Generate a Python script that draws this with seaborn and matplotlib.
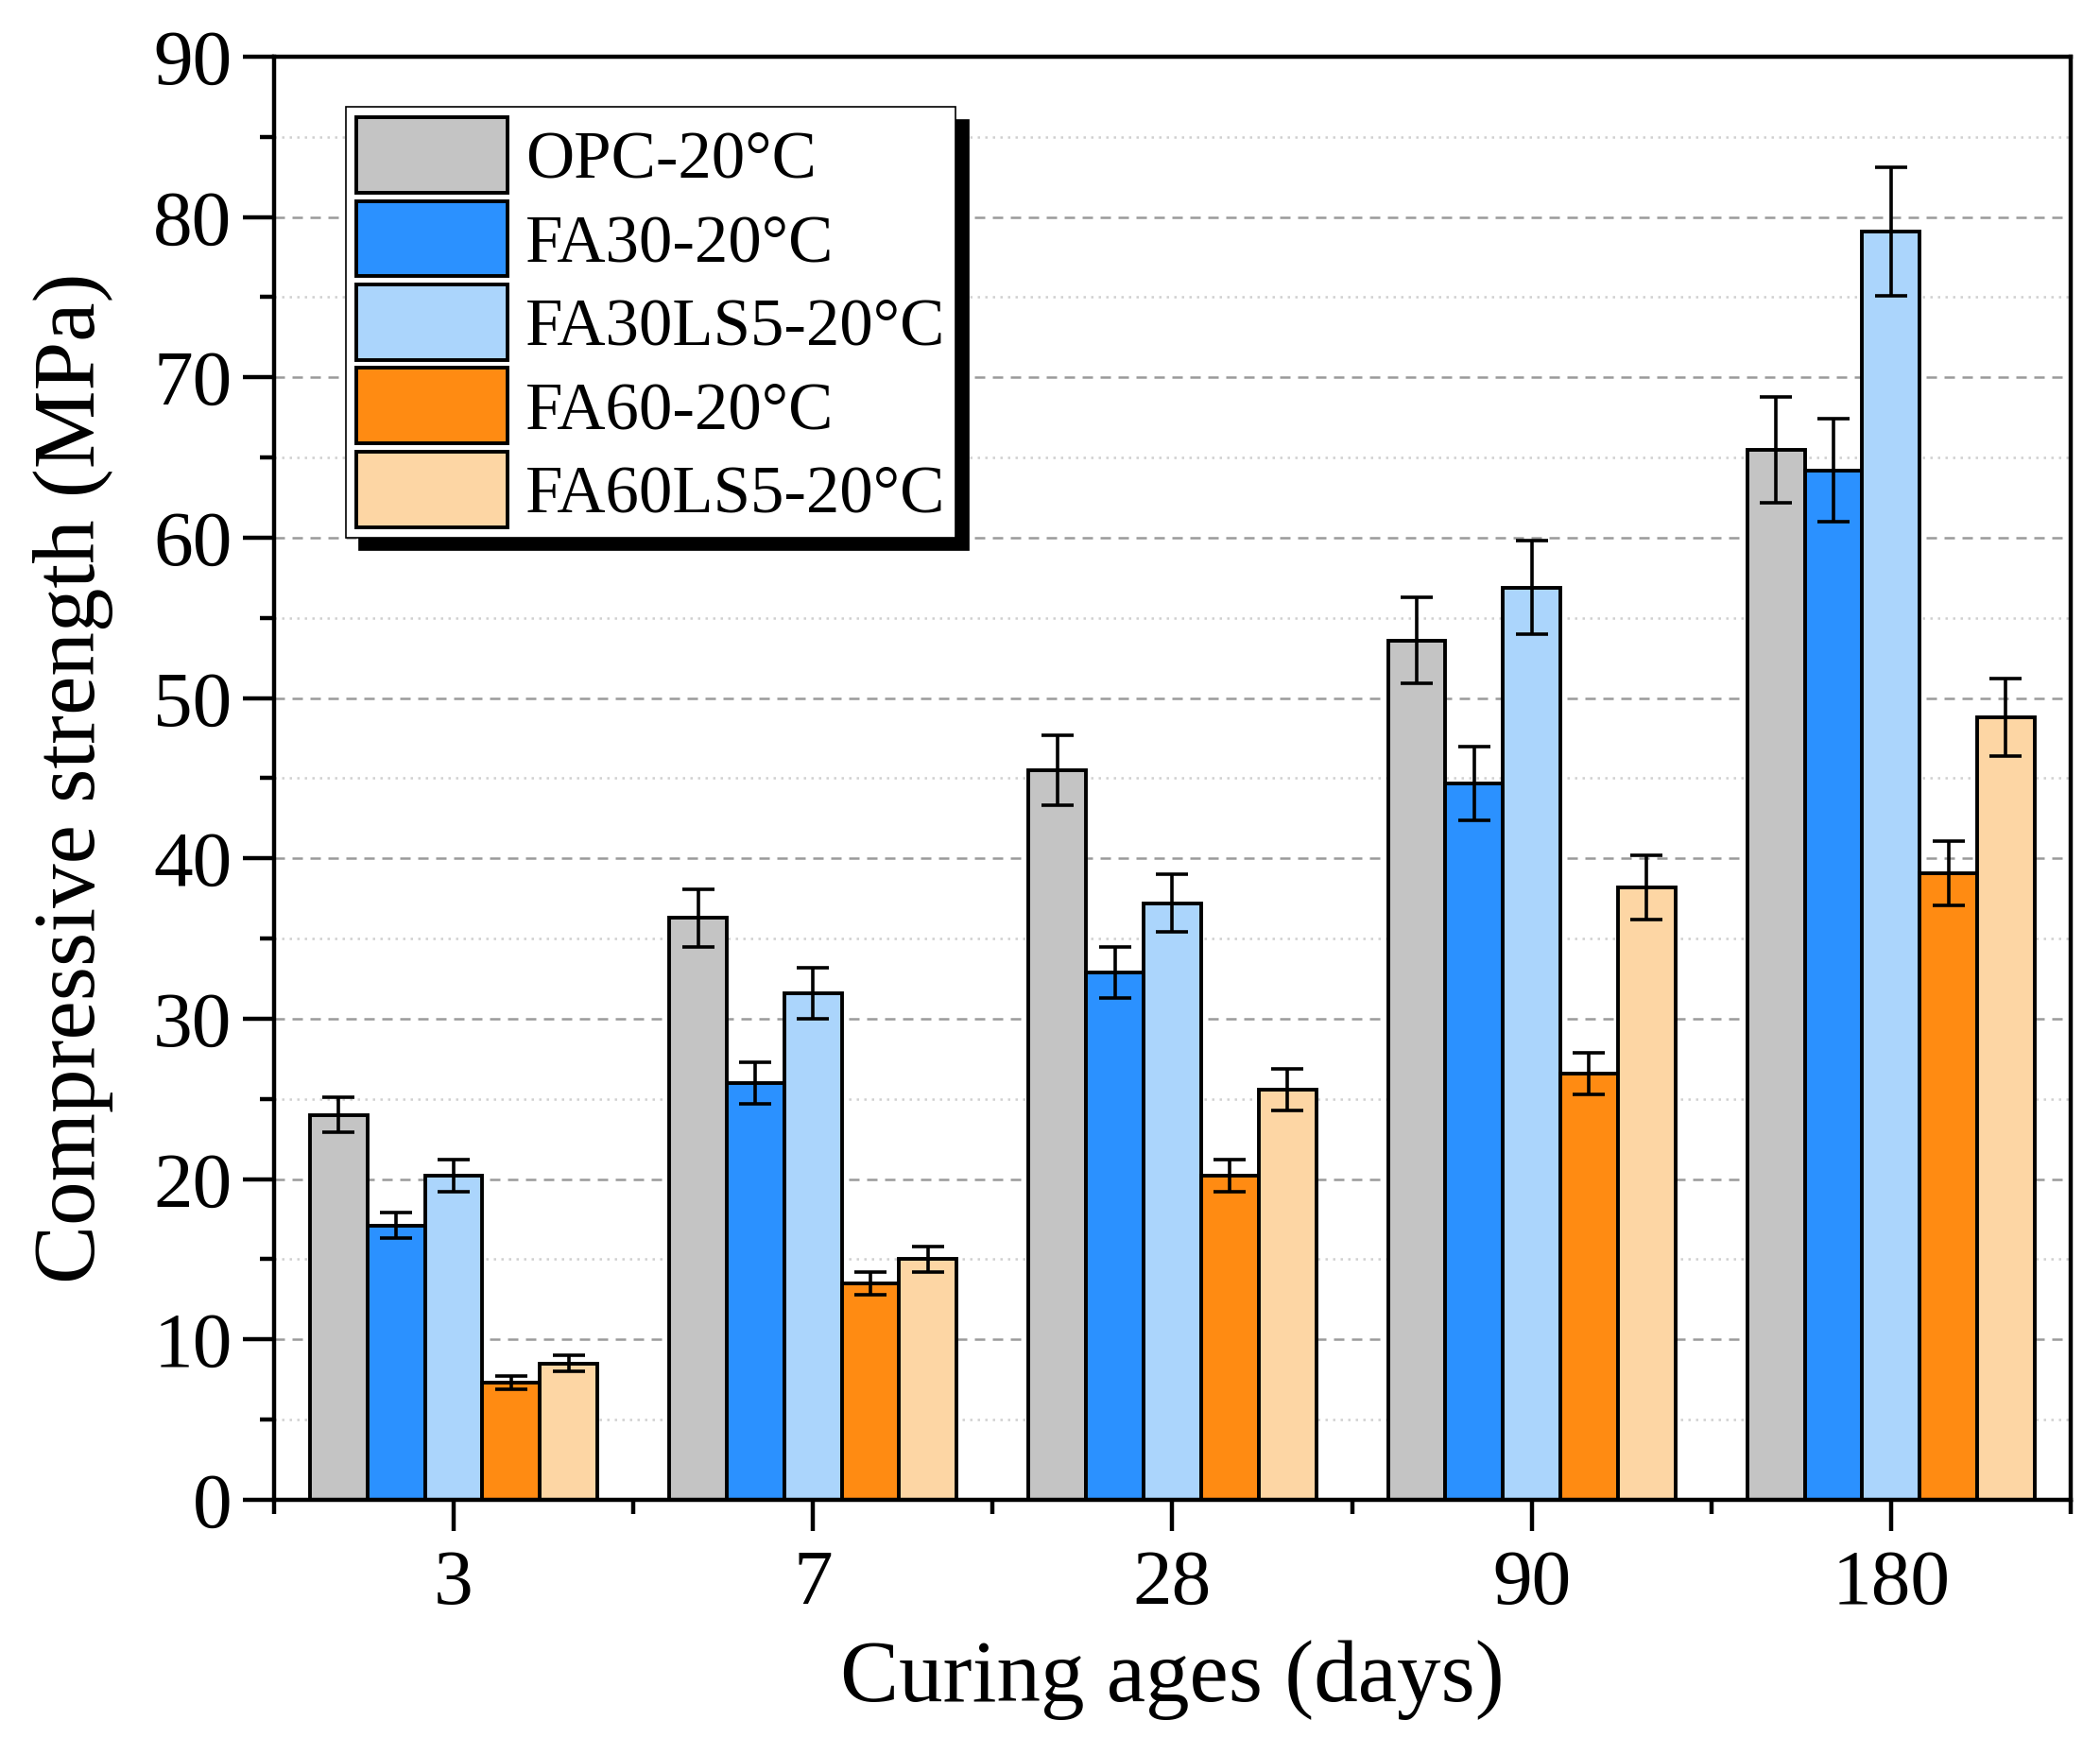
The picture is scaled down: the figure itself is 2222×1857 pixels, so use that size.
import pandas as pd
import matplotlib.pyplot as plt
import seaborn as sns
from matplotlib.patches import Patch
from matplotlib.ticker import MultipleLocator

# Data
ages = ['3', '7', '28', '90', '180']
mixes = ['OPC-20°C', 'FA30-20°C', 'FA30LS5-20°C', 'FA60-20°C', 'FA60LS5-20°C']
colors = ['#C4C4C4', '#2B91FF', '#ABD5FC', '#FF8B12', '#FDD6A4']

opc = [24.0, 36.3, 45.5, 53.6, 65.5]
fa30 = [17.1, 26.0, 32.9, 44.7, 64.2]
fa30ls5 = [20.2, 31.6, 37.2, 56.9, 79.1]
fa60 = [7.3, 13.5, 20.2, 26.6, 39.1]
fa60ls5 = [8.5, 15.0, 25.6, 38.2, 48.8]

opc_err = [1.1, 1.8, 2.2, 2.7, 3.3]
fa30_err = [0.8, 1.3, 1.6, 2.3, 3.2]
fa30ls5_err = [1.0, 1.6, 1.8, 2.9, 4.0]
fa60_err = [0.4, 0.7, 1.0, 1.3, 2.0]
fa60ls5_err = [0.5, 0.8, 1.3, 2.0, 2.4]

values = [opc, fa30, fa30ls5, fa60, fa60ls5]
errors = [opc_err, fa30_err, fa30ls5_err, fa60_err, fa60ls5_err]

df = pd.DataFrame({
    'age': ages * len(mixes),
    'mix': [m for m in mixes for _ in ages],
    'strength': [v for vals in values for v in vals],
})

sns.set_style('ticks')
plt.rcParams['font.family'] = ['Liberation Serif', 'DejaVu Serif']
plt.rcParams.update({
    'text.color': 'black', 'axes.labelcolor': 'black',
    'xtick.color': 'black', 'ytick.color': 'black',
    'xtick.major.size': 24, 'ytick.major.size': 24,
    'xtick.minor.size': 11, 'ytick.minor.size': 11,
    'xtick.major.width': 3.2, 'ytick.major.width': 3.2,
    'xtick.minor.width': 3.2, 'ytick.minor.width': 3.2,
})

fig, ax = plt.subplots(figsize=(22.22, 18.57), dpi=100)
fig.subplots_adjust(left=0.1305, right=0.986, bottom=0.1454, top=0.9677)

sns.barplot(data=df, x='age', y='strength', hue='mix', order=ages, hue_order=mixes,
            palette=colors, errorbar=None, edgecolor='black', linewidth=2.8,
            width=0.8, gap=0, saturation=1, legend=False, ax=ax)

# error bars centred on the bars seaborn drew
for container, errs in zip(ax.containers, errors):
    xs = [b.get_x() + b.get_width() / 2 for b in container]
    ys = [b.get_height() for b in container]
    ax.errorbar(xs, ys, yerr=errs, fmt='none', ecolor='black', elinewidth=2.6,
                capsize=12, capthick=2.6, zorder=5)

ax.set_xlim(-0.5, 4.5)
ax.set_ylim(0, 90)
ax.yaxis.set_major_locator(MultipleLocator(10))
ax.yaxis.set_minor_locator(MultipleLocator(5))
ax.set_xticks([i + 0.5 for i in range(-1, 5)], minor=True)

ax.set_axisbelow(True)
ax.grid(which='major', axis='y', linestyle=(0, (4.4, 3.2)), color='#9A9A9A', linewidth=1.8)
ax.grid(which='minor', axis='y', linestyle=(0, (1, 2.2)), color='#D0D0D0', linewidth=1.8)
ax.grid(which='both', axis='x', visible=False)

for s in ax.spines.values():
    s.set_visible(True)
    s.set_linewidth(3.2)
    s.set_color('black')

ax.tick_params(which='major', direction='out', length=24, width=3.2, labelsize=60,
               top=False, right=False, colors='black')
ax.tick_params(which='minor', direction='out', length=11, width=3.2, top=False, right=False)
ax.tick_params(axis='y', which='major', pad=8)
ax.tick_params(axis='x', which='major', pad=14)

ax.set_xlabel('Curing ages (days)', fontsize=67, labelpad=14)
ax.set_ylabel('Compressive strength (MPa)', fontsize=67, labelpad=30)

handles = [Patch(facecolor=c, edgecolor='black', linewidth=2.8, label=m)
           for c, m in zip(colors, mixes)]
leg = ax.legend(handles=handles, loc='upper left', bbox_to_anchor=(0.04, 0.965),
                borderaxespad=0, fancybox=False, framealpha=1, edgecolor='black',
                shadow={'ox': 10, 'oy': -10, 'facecolor': 'black', 'edgecolor': 'black', 'alpha': 1},
                fontsize=51, handlelength=2.26, handleheight=1.36, labelspacing=0.12,
                borderpad=0.15, handletextpad=0.27)
leg.get_frame().set_linewidth(1.2)

plt.savefig('out.png', dpi=100)
plt.close()
